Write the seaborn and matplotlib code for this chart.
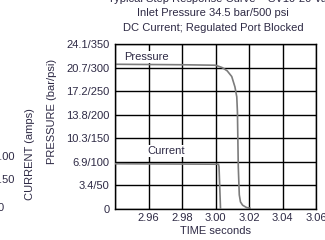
import matplotlib
matplotlib.use("Agg")
import matplotlib.pyplot as plt
import seaborn as sns
import pandas as pd

# ==========================
# Data
# ==========================

# pressure trace, psi
time_pressure = [2.940, 2.980, 3.000, 3.004, 3.007, 3.0097, 3.0116, 3.0127,
                 3.0131, 3.0136, 3.0142, 3.0149, 3.0162, 3.0186, 3.0206]
pressure_psi = [307, 306, 305, 300, 293, 281, 259, 238,
                205, 90, 30, 15, 8, 3, 2]

# current trace, amps (plotted on its own hidden scale)
time_current = [2.940, 3.0018, 3.0021, 3.0030]
current_amps = [0.96, 0.95, 0.90, 0.0]

x_ticks = [2.94, 2.96, 2.98, 3.00, 3.02, 3.04, 3.06]
x_labels = ["", "2.96", "2.98", "3.00", "3.02", "3.04", "3.06"]
y_ticks = [0, 50, 100, 150, 200, 250, 300, 350]
y_labels = ["0", "3.4/50", "6.9/100", "10.3/150", "13.8/200",
            "17.2/250", "20.7/300", "24.1/350"]
side_current_labels = ["1.00", "0.50", "0"]

title_lines = ["Inlet Pressure 34.5 bar/500 psi",
               "DC Current; Regulated Port Blocked"]

pressure_df = pd.DataFrame({"time": time_pressure, "value": pressure_psi})
current_df = pd.DataFrame({"time": time_current, "value": current_amps})

# ==========================
# Style
# ==========================

sns.set_style("white")
plt.rcParams["font.family"] = ["Liberation Sans", "DejaVu Sans"]
text_color = "#2e2a45"
line_color = "#7c7c7c"

fig = plt.figure(figsize=(3.25, 2.4), dpi=100)
ax = fig.add_axes([115 / 325, 1 - 209 / 240, 201 / 325, 165 / 240])

sns.lineplot(data=pressure_df, x="time", y="value", ax=ax,
             color=line_color, linewidth=1.2, estimator=None, sort=False)

ax2 = ax.twinx()
sns.lineplot(data=current_df, x="time", y="value", ax=ax2,
             color=line_color, linewidth=1.2, estimator=None, sort=False)
ax2.set_ylim(0, 3.5)
ax2.set_yticks([])
ax2.set_ylabel("")
for s in ax2.spines.values():
    s.set_visible(False)

ax.set_xlim(2.94, 3.06)
ax.set_ylim(0, 350)
ax.set_xticks(x_ticks)
ax.set_xticklabels(x_labels, fontsize=8, color=text_color)
ax.set_yticks(y_ticks)
ax.set_yticklabels(y_labels, fontsize=8, color=text_color)
ax.tick_params(axis="both", length=0)
ax.tick_params(axis="y", pad=4)
ax.tick_params(axis="x", pad=3)
ax.grid(True, color="black", linewidth=1.0)
for s in ax.spines.values():
    s.set_color("black")
    s.set_linewidth(1.0)

ax.set_xlabel("TIME seconds", fontsize=8, color=text_color, labelpad=2)
ax.set_ylabel("")

# line labels with white box over the grid
ax.text(2.9452, 322, "Pressure", fontsize=8, color=text_color,
        va="center", ha="left", zorder=5,
        bbox=dict(facecolor="white", edgecolor="none", pad=0.6))
ax2.text(2.9591, 1.23, "Current", fontsize=8, color=text_color,
         va="center", ha="left", zorder=5,
         bbox=dict(facecolor="white", edgecolor="none", pad=0.6))

# titles (top line cut off by the crop)
fig.text(108 / 325, 1 - 2.5 / 240, "Typical Step Response Curve \u2013 SV10-20 Valve",
         fontsize=8, color=text_color, ha="left", va="baseline")
fig.text(213 / 325, 1 - 13 / 240, title_lines[0], fontsize=8,
         color=text_color, ha="center", va="center")
fig.text(213 / 325, 1 - 28 / 240, title_lines[1], fontsize=8,
         color=text_color, ha="center", va="center")

# axis titles on the left
fig.text(52 / 325, 1 - 111 / 240, "PRESSURE (bar/psi)", fontsize=8,
         color=text_color, rotation=90, ha="center", va="center")
fig.text(30 / 325, 1 - 154 / 240, "CURRENT (amps)", fontsize=8,
         color=text_color, rotation=90, ha="center", va="center")

# partial current scale from the neighbouring axis
for lab, xpx, ypx in zip(side_current_labels, [15, 15, 4], [157, 180, 208]):
    fig.text(xpx / 325, 1 - ypx / 240, lab, fontsize=8,
             color=text_color, ha="right", va="center")

fig.savefig("out.png", dpi=100)
plt.close(fig)
